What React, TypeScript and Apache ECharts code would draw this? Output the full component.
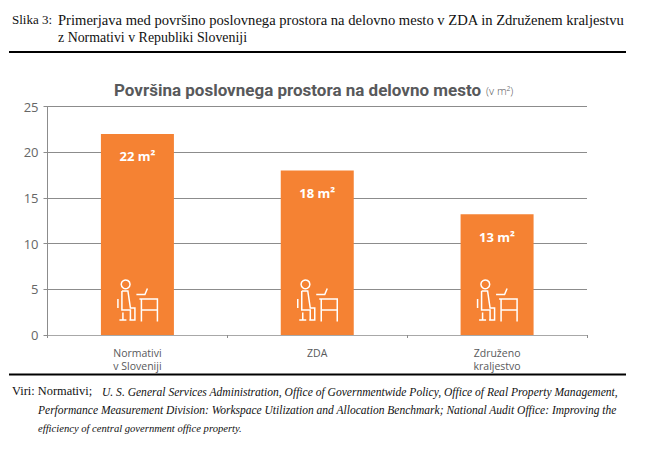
import React, { useEffect, useRef } from "react";
import * as echarts from "echarts";

const categories = ["Normativi\nv Sloveniji", "ZDA", "Združeno\nkraljestvo"];
const values = [22, 18, 13.2];
const valueLabels = ["22 m²", "18 m²", "13 m²"];
const yTicks = [0, 5, 10, 15, 20, 25];
const chartTitle = "Površina poslovnega prostora na delovno mesto";
const chartUnit = "(v m²)";
const captionLabel = "Slika 3:";
const captionLines = [
  "Primerjava med površino poslovnega prostora na delovno mesto v ZDA in Združenem kraljestvu",
  "z Normativi v Republiki Sloveniji",
];
const sourceLabel = "Viri: Normativi;";
const sourceLines = [
  "U. S. General Services Administration, Office of Governmentwide Policy, Office of Real Property Management,",
  "Performance Measurement Division: Workspace Utilization and Allocation Benchmark; National Audit Office: Improving the",
  "efficiency of central government office property.",
];

const ORANGE = "#F58233";
const GREY = "#58595B";
const SERIF = "'Liberation Serif', serif";
const SANS = "'Open Sans', sans-serif";

// desk-worker pictogram, origin at the bar's base centre
const ICON_PATH =
  "M-15.5 -44 L-9.5 -44 L-7 -27 L-2.5 -27 L-2.5 -15 L-8 -15 " +
  "M-15.5 -44 L-15.5 -25 L-7 -25 L-7 -15 " +
  "M-19.5 -36 L-19.5 -27 " +
  "M-14.5 -22.5 L-14.5 -15 M-18 -15 L-11 -15 " +
  "M2 -36 L20 -36 L20 -13.5 M4 -36 L4 -13.5 M4 -25 L20 -25 " +
  "M-1 -40.5 L7.5 -40.5 L10 -46.5 " +
  "M-7.4 -50.7 A4.4 4.4 0 1 0 -7.4 -50.6 Z";
echarts.graphic.registerShape(
  "deskIcon",
  echarts.graphic.extendPath(ICON_PATH, {}) as any
);

export default function App() {
  const ref = useRef<HTMLDivElement>(null);
  useEffect(() => {
    document.body.style.margin = "0";
    const chart = echarts.init(ref.current!, undefined, { renderer: "svg" });
    const serif = { fontFamily: SERIF, fontSize: 13, fill: "#111" };
    const note = { fontFamily: SERIF, fontSize: 11.55, fontStyle: "italic", fill: "#111" };
    chart.setOption({
      animation: false,
      title: {
        text: `{t|${chartTitle}} {u|${chartUnit}}`,
        left: 109,
        top: 76,
        textStyle: {
          rich: {
            t: { fontFamily: "Roboto, sans-serif", fontSize: 17, fontWeight: 700, color: GREY },
            u: { fontFamily: SANS, fontSize: 11, fontWeight: 300, color: GREY },
          },
        },
      },
      grid: { left: 47.5, right: 58, top: 106.5, bottom: 123 },
      xAxis: {
        type: "category",
        data: categories,
        axisLine: { lineStyle: { color: "#A8A8A8", width: 1 } },
        axisTick: { show: true, length: 3, lineStyle: { color: "#8C8C8C" } },
        axisLabel: {
          color: GREY,
          fontFamily: SANS,
          fontSize: 10.5,
          lineHeight: 13.5,
          margin: 11,
        },
      },
      yAxis: {
        type: "value",
        min: 0,
        max: 25,
        interval: 5,
        axisLine: { show: true, lineStyle: { color: "#8C8C8C" } },
        axisTick: { show: true, length: 4, lineStyle: { color: "#8C8C8C" } },
        splitLine: { lineStyle: { color: "#8C8C8C", width: 1 } },
        axisLabel: {
          color: "#666",
          fontFamily: SANS,
          fontSize: 13,
          margin: 9,
          formatter: (v: number) => (yTicks.includes(v) ? String(v) : ""),
        },
      },
      series: [
        {
          type: "bar",
          data: values,
          barWidth: 73,
          itemStyle: { color: ORANGE },
          label: {
            show: true,
            position: "insideTop",
            distance: 16,
            color: "#fff",
            fontFamily: SANS,
            fontSize: 13,
            fontWeight: 700,
            formatter: (p: any) => valueLabels[p.dataIndex],
          },
          z: 2,
        },
        {
          type: "custom",
          data: values.map((_, i) => [i, 0]),
          encode: { x: 0, y: 1 },
          silent: true,
          z: 3,
          renderItem: (_: any, api: any) => {
            const [x, y] = api.coord([api.value(0), api.value(1)]);
            return {
              type: "deskIcon",
              x,
              y,
              style: { fill: "none", stroke: "#fff", lineWidth: 1.5 },
            };
          },
        },
      ],
      graphic: [
        { type: "text", x: 12, y: 13, style: { ...serif, text: captionLabel } },
        { type: "text", x: 58, y: 12, style: { ...serif, fontSize: 14.6, text: captionLines[0] } },
        { type: "text", x: 58, y: 30, style: { ...serif, fontSize: 13.9, text: captionLines[1] } },
        { type: "rect", shape: { x: 9, y: 51, width: 617, height: 2 }, style: { fill: "#000" } },
        { type: "rect", shape: { x: 9, y: 373.5, width: 617, height: 2 }, style: { fill: "#000" } },
        { type: "text", x: 12, y: 385, style: { ...serif, fontSize: 12.4, text: sourceLabel } },
        { type: "text", x: 102, y: 385.5, style: { ...note, text: sourceLines[0] } },
        { type: "text", x: 38, y: 404, style: { ...note, fontSize: 11.5, text: sourceLines[1] } },
        { type: "text", x: 38, y: 423, style: { ...note, fontSize: 10.6, text: sourceLines[2] } },
      ],
    });
    return () => chart.dispose();
  }, []);
  return <div ref={ref} style={{ width: 645, height: 458 }} />;
}
